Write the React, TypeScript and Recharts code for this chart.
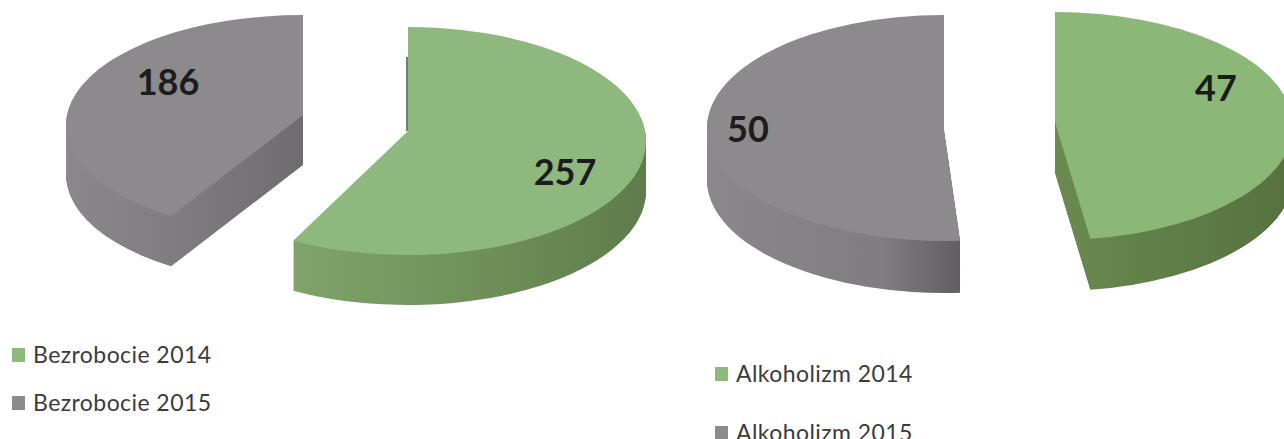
import React from "react";
import { PieChart, Pie, Legend } from "recharts";

const unemploymentNames = ["Bezrobocie 2015", "Bezrobocie 2014"];
const unemploymentValues = [186, 257];
const alcoholNames = ["Alkoholizm 2015", "Alkoholizm 2014"];
const alcoholValues = [50, 47];

const GREY = "#8c8a8d";
const GREEN = "#8fb87f";

const toRows = (names: string[], values: number[]) =>
  names.map((name, i) => ({ name, value: values[i] }));
const unemployment = toRows(unemploymentNames, unemploymentValues);
const alcohol = toRows(alcoholNames, alcoholValues);

type Slice = {
  data: { name: string; value: number }[];
  name: string;
  cx: number; cy: number; rx: number; ry: number;
  apexDy: number; depth: number;
  top: string; wall: string;
  labelX: number; labelY: number;
  foreshorten: number; // the 3D view narrows the angle of a slice whose edge faces the viewer
  edge?: string;
};

const slices: Slice[] = [
  { data: unemployment, name: "Bezrobocie 2015", cx: 303, cy: 125, rx: 237, ry: 110, apexDy: -10, depth: 50, top: GREY, wall: "wallA", labelX: 168, labelY: 95, foreshorten: 0.967 },
  { data: unemployment, name: "Bezrobocie 2014", cx: 408, cy: 141, rx: 238, ry: 114, apexDy: -10, depth: 50, top: GREEN, wall: "wallB", labelX: 565, labelY: 185, foreshorten: 1, edge: "#3f5a35" },
  { data: alcohol, name: "Alkoholizm 2015", cx: 944, cy: 128, rx: 237, ry: 113, apexDy: 2, depth: 52, top: GREY, wall: "wallC", labelX: 748, labelY: 142, foreshorten: 0.991 },
  { data: alcohol, name: "Alkoholizm 2014", cx: 1055, cy: 126, rx: 238, ry: 114, apexDy: -4, depth: 51, top: "#8bb879", wall: "wallD", labelX: 1216, labelY: 101, foreshorten: 1 },
];

const legendRows = [
  { name: "Bezrobocie 2014", color: GREEN, x: 12, y: 363 },
  { name: "Bezrobocie 2015", color: GREY, x: 12, y: 411 },
  { name: "Alkoholizm 2014", color: GREEN, x: 715, y: 382 },
  { name: "Alkoholizm 2015", color: GREY, x: 715, y: 441 },
];

const makeShape = (s: Slice) => (props: any) => {
  if (props.name !== s.name) return <g />;
  const { cx, cy, outerRadius: rx, startAngle, endAngle: rawEnd } = props;
  // Right-hand slices start at the bottom end; they keep the bottom point from a small correction.
  let start = startAngle;
  let end = rawEnd;
  if (s.name === "Alkoholizm 2014") start = rawEnd - (rawEnd - startAngle) * 0.983;
  else end = startAngle + (rawEnd - startAngle) * s.foreshorten;
  const pt = (a: number, dy: number) => {
    const r = (a * Math.PI) / 180;
    return `${cx + rx * Math.cos(r)} ${cy - s.ry * Math.sin(r) + dy}`;
  };
  const large = Math.abs(end - start) > 180 ? 1 : 0;
  const path = (dy: number) =>
    `M${cx} ${cy + s.apexDy + dy}L${pt(start, dy)}A${rx} ${s.ry} 0 ${large} 0 ${pt(end, dy)}Z`;
  const layers: number[] = [];
  for (let d = s.depth; d > 0; d -= 1) layers.push(d);
  return (
    <g>
      {layers.map((d) => (
        <path key={d} d={path(d)} fill={`url(#${s.wall})`} />
      ))}
      <path d={path(0)} fill={s.top} />
      {s.edge ? (
        <path d={`M${cx - 1} ${cy + s.apexDy}L${cx - 1} ${cy - s.ry + 30}`} stroke={s.edge} strokeWidth={1.5} fill="none" />
      ) : null}
    </g>
  );
};

const makeLabel = (s: Slice) => (props: any) => {
  if (props.name !== s.name) return null;
  return (
    <text x={s.labelX} y={s.labelY} textAnchor="middle" fontFamily="Lato, sans-serif" fontWeight={700} fontSize={36} fill="#1c1c1c">
      {props.value}
    </text>
  );
};

const LegendBlock = () => (
  <div style={{ position: "relative", width: 1284, height: 439 }}>
    {legendRows.map((r) => (
      <div key={r.name}>
        <div style={{ position: "absolute", left: r.x, top: r.y - 15, width: 13, height: 14, background: r.color }} />
        <div style={{ position: "absolute", left: r.x + 21, top: r.y - 24, lineHeight: "30px", fontFamily: "Lato, sans-serif", fontSize: 23, letterSpacing: 0.43, color: "#3b3b3b", whiteSpace: "nowrap" }}>
          {r.name}
        </div>
      </div>
    ))}
  </div>
);

const Wall = ({ id, stops }: { id: string; stops: [number, string][] }) => (
  <linearGradient id={id} x1="0" y1="0" x2="1" y2="0">
    {stops.map(([o, c]) => (
      <stop key={o} offset={o} stopColor={c} />
    ))}
  </linearGradient>
);

export default function App() {
  return (
    <div style={{ position: "absolute", left: 0, top: 0, width: 1284, height: 439, overflow: "hidden", background: "#fff" }}>
      <PieChart width={1284} height={439} margin={{ top: 0, right: 0, bottom: 0, left: 0 }}>
        <defs>
          <Wall id="wallA" stops={[[0, "#8a888a"], [0.45, "#7f7d7f"], [1, "#6e6c6e"]]} />
          <Wall id="wallB" stops={[[0, "#7fa369"], [0.5, "#6f9259"], [1, "#5f7c4c"]]} />
          <Wall id="wallC" stops={[[0, "#8a888a"], [0.7, "#7f7d7f"], [1, "#605e60"]]} />
          <Wall id="wallD" stops={[[0, "#6a8a52"], [0.5, "#5f7e47"], [1, "#56713f"]]} />
        </defs>
        {slices.map((s) => (
          <Pie
            key={s.name}
            data={s.data}
            dataKey="value"
            nameKey="name"
            cx={s.cx}
            cy={s.cy}
            outerRadius={s.rx}
            startAngle={90}
            endAngle={450}
            stroke="none"
            isAnimationActive={false}
            labelLine={false}
            label={makeLabel(s)}
            shape={makeShape(s)}
          />
        ))}
        <Legend layout="vertical" align="center" verticalAlign="middle" wrapperStyle={{ left: 0, top: 0, width: 1284, height: 439 }} content={<LegendBlock />} />
      </PieChart>
    </div>
  );
}
